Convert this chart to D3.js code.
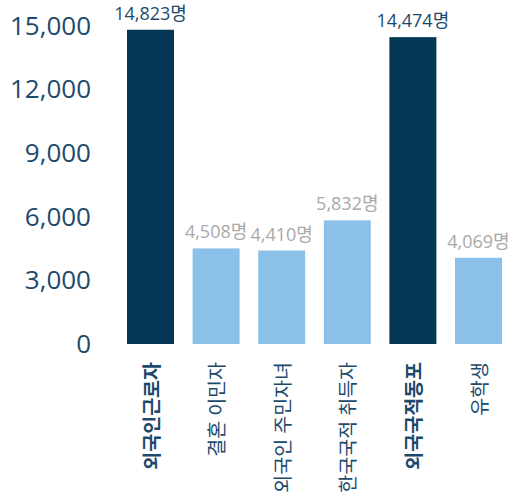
<!DOCTYPE html>
<html>
<head>
<meta charset="utf-8">
<script src="https://cdn.jsdelivr.net/npm/d3@7"></script>
<style>
  body { margin: 0; background: #fff; }
  text { font-family: "Open Sans", "Noto Sans CJK KR", sans-serif; }
</style>
</head>
<body>
<svg id="chart"></svg>
<script>
const categories = ["외국인근로자", "결혼 이민자", "외국인 주민자녀", "한국국적 취득자", "외국국적동포", "유학생"];
const values = [14823, 4508, 4410, 5832, 14474, 4069];
const highlight = [true, false, false, false, true, false];
const yTicks = [0, 3000, 6000, 9000, 12000, 15000];

const width = 513, height = 495;
const dark = "#023654", light = "#8bc1e8", textBlue = "#1d4a6c", grey = "#a9a9a9";

const svg = d3.select("#chart")
    .attr("width", width)
    .attr("height", height);

const x = d3.scaleBand()
    .domain(categories)
    .range([117.7, 511.3])
    .paddingInner(0.284)
    .paddingOuter(0.142);

const y = d3.scaleLinear()
    .domain([0, 15000])
    .range([344, 26]);

// y axis, labels only
const yAxis = svg.append("g")
    .attr("transform", "translate(91,0)")
    .call(d3.axisLeft(y).tickValues(yTicks).tickSize(0).tickPadding(0).tickFormat(d3.format(",")));
yAxis.select(".domain").remove();
yAxis.selectAll("text")
    .attr("fill", textBlue)
    .style("font-size", "26px");

const data = categories.map((c, i) => ({ name: c, value: values[i], hi: highlight[i] }));

svg.append("g")
    .selectAll("rect")
    .data(data).enter()
    .append("rect")
    .attr("x", d => x(d.name))
    .attr("y", d => y(d.value))
    .attr("width", x.bandwidth())
    .attr("height", d => y(0) - y(d.value))
    .attr("fill", d => d.hi ? dark : light);

// value labels
svg.append("g")
    .selectAll("text")
    .data(data).enter()
    .append("text")
    .attr("x", d => x(d.name) + x.bandwidth() / 2)
    .attr("y", d => y(d.value) - 10)
    .attr("text-anchor", "middle")
    .attr("fill", d => d.hi ? textBlue : grey)
    .style("font-size", "18px")
    .text(d => d3.format(",")(d.value) + "명");

// category labels, rotated
svg.append("g")
    .selectAll("text")
    .data(data).enter()
    .append("text")
    .attr("transform", d => "translate(" + (x(d.name) + x.bandwidth() / 2 + 8) + ",362) rotate(-90)")
    .attr("text-anchor", "end")
    .attr("fill", textBlue)
    .style("font-size", "19.5px")
    .style("font-weight", d => d.hi ? "bold" : "normal")
    .text(d => d.name);
</script>
</body>
</html>
